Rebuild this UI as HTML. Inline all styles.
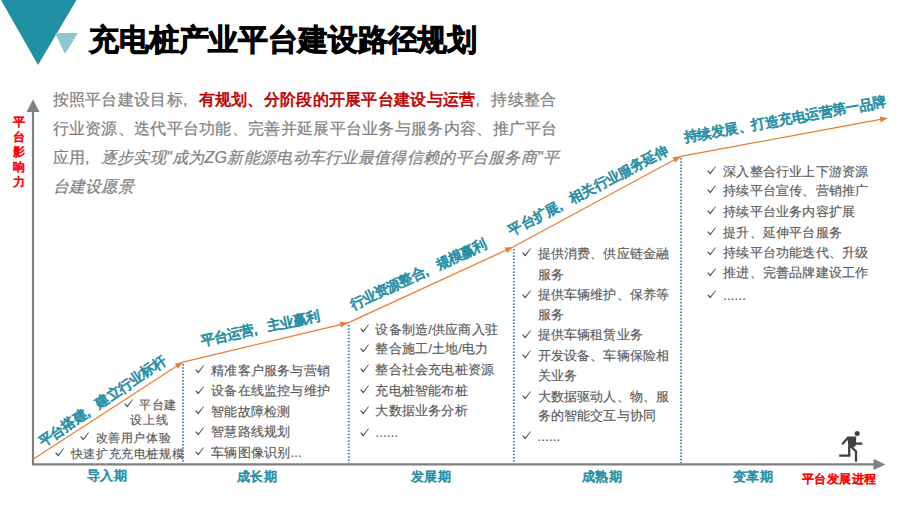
<!DOCTYPE html>
<html><head><meta charset="utf-8">
<style>
html,body{margin:0;padding:0;background:#fff;}
body{width:900px;height:506px;position:relative;overflow:hidden;font-family:"Liberation Sans",sans-serif;}
.a{position:absolute;white-space:nowrap;}
#title{left:89px;top:22px;letter-spacing:-0.15px;font-size:30px;font-weight:bold;color:#000;line-height:36px;-webkit-text-stroke:0.85px #000;}
#para{left:52.5px;top:85px;font-size:16px;letter-spacing:0.3px;line-height:29px;color:#7f7f7f;-webkit-text-stroke:0.2px #7f7f7f;}
#para b{font-weight:normal;color:#c00000;-webkit-text-stroke:0.65px #c00000;}
#para i{font-style:italic;}
.cm{display:inline-block;width:15.6px;}
.cm2{display:inline-block;width:14px;}
.yl{left:10.5px;top:115px;width:16px;font-size:12px;line-height:15px;color:#ff0000;font-weight:normal;white-space:normal;text-align:center;-webkit-text-stroke:0.7px #ff0000;}
.per{font-size:13px;letter-spacing:0.7px;font-weight:normal;color:#2a90a6;line-height:16px;-webkit-text-stroke:0.75px #2a90a6;}
.rl{font-size:14px;font-weight:normal;color:#2a90a6;line-height:16px;-webkit-text-stroke:0.8px #2a90a6;}
.it{font-size:13px;letter-spacing:0.2px;color:#595959;line-height:16px;-webkit-text-stroke:0.15px #595959;}
.it1{font-size:12px;letter-spacing:0.6px;color:#595959;line-height:16px;-webkit-text-stroke:0.15px #595959;}
</style></head><body>
<svg class="a" style="left:0;top:0" width="900" height="506" viewBox="0 0 900 506">
  <polygon points="1,0 76.5,0 38,65" fill="#2190a2"/>
  <polygon points="55,33 78,33 65,54" fill="#8dc5d0"/>
  <line x1="33" y1="110" x2="33" y2="465" stroke="#808080" stroke-width="2.2"/>
  <polygon points="33,99.5 26.5,112 39.5,112" fill="#808080"/>
  <line x1="32" y1="464.4" x2="875" y2="464.4" stroke="#808080" stroke-width="2.4"/>
  <polygon points="885.5,464.4 873.5,458.8 873.5,470" fill="#808080"/>
  <g stroke="#4472c4" stroke-width="1.8" stroke-dasharray="1.5,1.7">
    <line x1="183" y1="364" x2="183" y2="463"/>
    <line x1="348.8" y1="325" x2="348.8" y2="463"/>
    <line x1="513.8" y1="249" x2="513.8" y2="463"/>
    <line x1="681" y1="158" x2="681" y2="463"/>
  </g>
  <polyline points="33,459.3 183,362 348,322.8 513,247 680.8,156.3 881.8,119.19999999999999" stroke="#ed7d31" stroke-width="1.3" fill="none"/>
<polygon points="183.00,362.00 178.14,368.85 174.77,363.64" fill="#ed7d31"/>
<polygon points="348.00,322.80 341.13,327.62 339.69,321.59" fill="#ed7d31"/>
<polygon points="513.00,247.00 507.21,253.07 504.62,247.44" fill="#ed7d31"/>
<polygon points="680.80,156.30 675.41,162.74 672.46,157.28" fill="#ed7d31"/>
<polygon points="887.80,118.10 880.69,122.56 879.57,116.47" fill="#ed7d31"/>
  <circle cx="857.2" cy="433.6" r="2.5" fill="#404040"/>
  <polygon points="847.2,436.6 856.3,436.6 855.8,445.5 853.5,447.5 848.5,447.5" fill="#404040"/>
  <g stroke="#404040" stroke-width="2.3" fill="none" stroke-linecap="butt" stroke-linejoin="miter">
    <polyline points="848.2,437.5 842.2,444.2"/>
    <polyline points="855,443.6 862.3,443.6"/>
    <polyline points="849.2,446 849.2,455.6 839.2,455.6"/>
    <polyline points="851,446.5 856,451.5 856,461.8"/>
  </g>
</svg>
<div id="title" class="a">充电桩产业平台建设路径规划</div>
<div id="para" class="a"><div>按照平台建设目标<span class="cm">,</span><b>有规划、分阶段的开展平台建设与运营</b><span class="cm">,</span>持续整合</div><div>行业资源、迭代平台功能、完善并延展平台业务与服务内容、推广平台</div><div>应用<span class="cm">,</span><i>逐步实现"成为ZG新能源电动车行业最值得信赖的平台服务商"平</i></div><div><i>台建设愿景</i></div></div>
<div class="a yl">平台影响力</div>
<div class="a rl" style="left:102.45px;top:401.25px;letter-spacing:-0.393px;transform:translate(-50%,-50%) rotate(-34.288deg)">平台搭建<span class="cm2">,</span>建立行业标杆</div>
<div class="a rl" style="left:259.70px;top:328.40px;letter-spacing:-0.573px;transform:translate(-50%,-50%) rotate(-12.100deg)">平台运营<span class="cm2">,</span>主业赢利</div>
<div class="a rl" style="left:418.45px;top:274.20px;letter-spacing:-0.519px;transform:translate(-50%,-50%) rotate(-24.804deg)">行业资源整合<span class="cm2">,</span>规模赢利</div>
<div class="a rl" style="left:588.05px;top:189.55px;letter-spacing:-0.336px;transform:translate(-50%,-50%) rotate(-27.603deg)">平台扩展<span class="cm2">,</span>相关行业服务延伸</div>
<div class="a rl" style="left:784.80px;top:119.35px;letter-spacing:-0.332px;transform:translate(-50%,-50%) rotate(-10.158deg)">持续发展、打造充电运营第一品牌</div>
<div class="a per" style="left:86.5px;top:468.2px">导入期</div>
<div class="a per" style="left:236.5px;top:468.5px">成长期</div>
<div class="a per" style="left:410.5px;top:468.5px">发展期</div>
<div class="a per" style="left:581.5px;top:468.5px">成熟期</div>
<div class="a per" style="left:732.8px;top:469px">变革期</div>
<div class="a" style="left:801.5px;top:471.3px;font-size:12px;letter-spacing:0.5px;font-weight:normal;color:#ff0000;line-height:16px;-webkit-text-stroke:0.7px #ff0000">平台发展进程</div>
<svg class="a" style="left:123.9px;top:399.4px" width="10" height="9" viewBox="0 0 10 9"><path d="M0.2,5.1 L1.1,4.3 L3.3,6.6 L8.3,0.3 L8.9,0.8 L3.3,8.5 Z" fill="#505050"/></svg>
<div class="a it1" style="left:139.2px;top:397.0px">平台建</div>
<div class="a it1" style="left:130.4px;top:411.8px">设上线</div>
<svg class="a" style="left:79.6px;top:432.1px" width="10" height="9" viewBox="0 0 10 9"><path d="M0.2,5.1 L1.1,4.3 L3.3,6.6 L8.3,0.3 L8.9,0.8 L3.3,8.5 Z" fill="#505050"/></svg>
<div class="a it1" style="left:95.7px;top:429.7px">改善用户体验</div>
<svg class="a" style="left:54.7px;top:448.0px" width="10" height="9" viewBox="0 0 10 9"><path d="M0.2,5.1 L1.1,4.3 L3.3,6.6 L8.3,0.3 L8.9,0.8 L3.3,8.5 Z" fill="#505050"/></svg>
<div class="a it1" style="left:70.8px;top:445.6px">快速扩充充电桩规模</div>
<svg class="a" style="left:195.1px;top:365.2px" width="10" height="9" viewBox="0 0 10 9"><path d="M0.2,5.1 L1.1,4.3 L3.3,6.6 L8.3,0.3 L8.9,0.8 L3.3,8.5 Z" fill="#505050"/></svg>
<div class="a it" style="left:211.3px;top:362.8px">精准客户服务与营销</div>
<svg class="a" style="left:195.1px;top:385.8px" width="10" height="9" viewBox="0 0 10 9"><path d="M0.2,5.1 L1.1,4.3 L3.3,6.6 L8.3,0.3 L8.9,0.8 L3.3,8.5 Z" fill="#505050"/></svg>
<div class="a it" style="left:211.3px;top:383.4px">设备在线监控与维护</div>
<svg class="a" style="left:195.1px;top:406.4px" width="10" height="9" viewBox="0 0 10 9"><path d="M0.2,5.1 L1.1,4.3 L3.3,6.6 L8.3,0.3 L8.9,0.8 L3.3,8.5 Z" fill="#505050"/></svg>
<div class="a it" style="left:211.3px;top:404.0px">智能故障检测</div>
<svg class="a" style="left:195.1px;top:426.7px" width="10" height="9" viewBox="0 0 10 9"><path d="M0.2,5.1 L1.1,4.3 L3.3,6.6 L8.3,0.3 L8.9,0.8 L3.3,8.5 Z" fill="#505050"/></svg>
<div class="a it" style="left:211.3px;top:424.3px">智慧路线规划</div>
<svg class="a" style="left:195.1px;top:447.4px" width="10" height="9" viewBox="0 0 10 9"><path d="M0.2,5.1 L1.1,4.3 L3.3,6.6 L8.3,0.3 L8.9,0.8 L3.3,8.5 Z" fill="#505050"/></svg>
<div class="a it" style="left:211.3px;top:445.0px">车辆图像识别...</div>
<svg class="a" style="left:360.3px;top:324.1px" width="10" height="9" viewBox="0 0 10 9"><path d="M0.2,5.1 L1.1,4.3 L3.3,6.6 L8.3,0.3 L8.9,0.8 L3.3,8.5 Z" fill="#505050"/></svg>
<div class="a it" style="left:375.4px;top:321.7px">设备制造/供应商入驻</div>
<svg class="a" style="left:360.3px;top:343.8px" width="10" height="9" viewBox="0 0 10 9"><path d="M0.2,5.1 L1.1,4.3 L3.3,6.6 L8.3,0.3 L8.9,0.8 L3.3,8.5 Z" fill="#505050"/></svg>
<div class="a it" style="left:375.4px;top:341.4px">整合施工/土地/电力</div>
<svg class="a" style="left:360.3px;top:364.1px" width="10" height="9" viewBox="0 0 10 9"><path d="M0.2,5.1 L1.1,4.3 L3.3,6.6 L8.3,0.3 L8.9,0.8 L3.3,8.5 Z" fill="#505050"/></svg>
<div class="a it" style="left:375.4px;top:361.7px">整合社会充电桩资源</div>
<svg class="a" style="left:360.3px;top:384.9px" width="10" height="9" viewBox="0 0 10 9"><path d="M0.2,5.1 L1.1,4.3 L3.3,6.6 L8.3,0.3 L8.9,0.8 L3.3,8.5 Z" fill="#505050"/></svg>
<div class="a it" style="left:375.4px;top:382.5px">充电桩智能布桩</div>
<svg class="a" style="left:360.3px;top:405.7px" width="10" height="9" viewBox="0 0 10 9"><path d="M0.2,5.1 L1.1,4.3 L3.3,6.6 L8.3,0.3 L8.9,0.8 L3.3,8.5 Z" fill="#505050"/></svg>
<div class="a it" style="left:375.4px;top:403.3px">大数据业务分析</div>
<svg class="a" style="left:360.3px;top:427.6px" width="10" height="9" viewBox="0 0 10 9"><path d="M0.2,5.1 L1.1,4.3 L3.3,6.6 L8.3,0.3 L8.9,0.8 L3.3,8.5 Z" fill="#505050"/></svg>
<div class="a it" style="left:375.4px;top:425.2px">......</div>
<svg class="a" style="left:522.3px;top:248.1px" width="10" height="9" viewBox="0 0 10 9"><path d="M0.2,5.1 L1.1,4.3 L3.3,6.6 L8.3,0.3 L8.9,0.8 L3.3,8.5 Z" fill="#505050"/></svg>
<div class="a it" style="left:537.5px;top:245.7px">提供消费、供应链金融</div>
<div class="a it" style="left:537.5px;top:267.0px">服务</div>
<svg class="a" style="left:522.3px;top:289.8px" width="10" height="9" viewBox="0 0 10 9"><path d="M0.2,5.1 L1.1,4.3 L3.3,6.6 L8.3,0.3 L8.9,0.8 L3.3,8.5 Z" fill="#505050"/></svg>
<div class="a it" style="left:537.5px;top:287.4px">提供车辆维护、保养等</div>
<div class="a it" style="left:537.5px;top:307.3px">服务</div>
<svg class="a" style="left:522.3px;top:329.6px" width="10" height="9" viewBox="0 0 10 9"><path d="M0.2,5.1 L1.1,4.3 L3.3,6.6 L8.3,0.3 L8.9,0.8 L3.3,8.5 Z" fill="#505050"/></svg>
<div class="a it" style="left:537.5px;top:327.2px">提供车辆租赁业务</div>
<svg class="a" style="left:522.3px;top:349.9px" width="10" height="9" viewBox="0 0 10 9"><path d="M0.2,5.1 L1.1,4.3 L3.3,6.6 L8.3,0.3 L8.9,0.8 L3.3,8.5 Z" fill="#505050"/></svg>
<div class="a it" style="left:537.5px;top:347.5px">开发设备、车辆保险相</div>
<div class="a it" style="left:537.5px;top:367.9px">关业务</div>
<svg class="a" style="left:522.3px;top:391.1px" width="10" height="9" viewBox="0 0 10 9"><path d="M0.2,5.1 L1.1,4.3 L3.3,6.6 L8.3,0.3 L8.9,0.8 L3.3,8.5 Z" fill="#505050"/></svg>
<div class="a it" style="left:537.5px;top:388.7px">大数据驱动人、物、服</div>
<div class="a it" style="left:537.5px;top:408.2px">务的智能交互与协同</div>
<svg class="a" style="left:522.3px;top:431.4px" width="10" height="9" viewBox="0 0 10 9"><path d="M0.2,5.1 L1.1,4.3 L3.3,6.6 L8.3,0.3 L8.9,0.8 L3.3,8.5 Z" fill="#505050"/></svg>
<div class="a it" style="left:537.5px;top:429.0px">......</div>
<svg class="a" style="left:707.4px;top:165.9px" width="10" height="9" viewBox="0 0 10 9"><path d="M0.2,5.1 L1.1,4.3 L3.3,6.6 L8.3,0.3 L8.9,0.8 L3.3,8.5 Z" fill="#505050"/></svg>
<div class="a it" style="left:723.2px;top:163.5px">深入整合行业上下游资源</div>
<svg class="a" style="left:707.4px;top:184.9px" width="10" height="9" viewBox="0 0 10 9"><path d="M0.2,5.1 L1.1,4.3 L3.3,6.6 L8.3,0.3 L8.9,0.8 L3.3,8.5 Z" fill="#505050"/></svg>
<div class="a it" style="left:723.2px;top:182.5px">持续平台宣传、营销推广</div>
<svg class="a" style="left:707.4px;top:206.1px" width="10" height="9" viewBox="0 0 10 9"><path d="M0.2,5.1 L1.1,4.3 L3.3,6.6 L8.3,0.3 L8.9,0.8 L3.3,8.5 Z" fill="#505050"/></svg>
<div class="a it" style="left:723.2px;top:203.7px">持续平台业务内容扩展</div>
<svg class="a" style="left:707.4px;top:227.3px" width="10" height="9" viewBox="0 0 10 9"><path d="M0.2,5.1 L1.1,4.3 L3.3,6.6 L8.3,0.3 L8.9,0.8 L3.3,8.5 Z" fill="#505050"/></svg>
<div class="a it" style="left:723.2px;top:224.9px">提升、延伸平台服务</div>
<svg class="a" style="left:707.4px;top:247.2px" width="10" height="9" viewBox="0 0 10 9"><path d="M0.2,5.1 L1.1,4.3 L3.3,6.6 L8.3,0.3 L8.9,0.8 L3.3,8.5 Z" fill="#505050"/></svg>
<div class="a it" style="left:723.2px;top:244.8px">持续平台功能迭代、升级</div>
<svg class="a" style="left:707.4px;top:267.7px" width="10" height="9" viewBox="0 0 10 9"><path d="M0.2,5.1 L1.1,4.3 L3.3,6.6 L8.3,0.3 L8.9,0.8 L3.3,8.5 Z" fill="#505050"/></svg>
<div class="a it" style="left:723.2px;top:265.3px">推进、完善品牌建设工作</div>
<svg class="a" style="left:707.4px;top:289.9px" width="10" height="9" viewBox="0 0 10 9"><path d="M0.2,5.1 L1.1,4.3 L3.3,6.6 L8.3,0.3 L8.9,0.8 L3.3,8.5 Z" fill="#505050"/></svg>
<div class="a it" style="left:723.2px;top:287.5px">......</div>
</body></html>
